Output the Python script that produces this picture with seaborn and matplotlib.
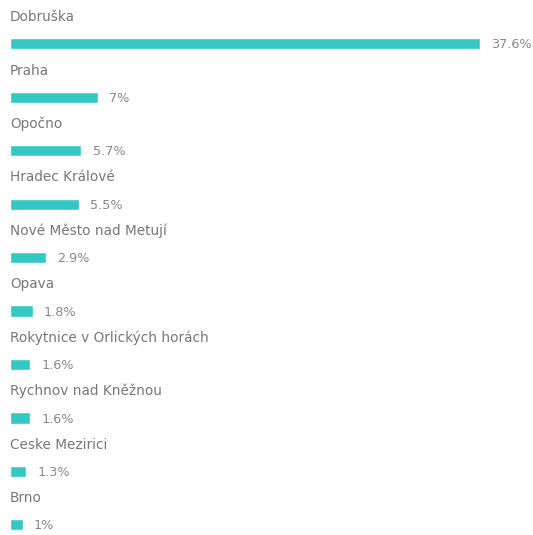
import matplotlib
matplotlib.use("Agg")
import matplotlib.pyplot as plt
import seaborn as sns
import pandas as pd

# data
cities = ["Dobruška", "Praha", "Opočno", "Hradec Králové", "Nové Město nad Metují",
          "Opava", "Rokytnice v Orlických horách", "Rychnov nad Kněžnou",
          "Ceske Mezirici", "Brno"]
shares = [37.6, 7, 5.7, 5.5, 2.9, 1.8, 1.6, 1.6, 1.3, 1]
share_labels = ["37.6%", "7%", "5.7%", "5.5%", "2.9%", "1.8%", "1.6%", "1.6%", "1.3%", "1%"]

df = pd.DataFrame({"city": cities, "share": shares})

sns.set_style("white")
plt.rcParams["font.family"] = ["DejaVu Sans"]

fig = plt.figure(figsize=(5.33, 5.35), dpi=100)
ax = fig.add_axes([0, 0, 1, 1])

sns.barplot(data=df, x="share", y="city", orient="h", color="#34c8c5",
            saturation=1, width=0.21, ax=ax)

for i, (c, lab, v) in enumerate(zip(cities, share_labels, shares)):
    ax.text(0, i - 0.5, c, fontsize=9.8, color="#777777", ha="left", va="center")
    ax.text(v + 0.9, i + 0.02, lab, fontsize=9.2, color="#888888", ha="left", va="center")

ax.set_xlim(-0.8, 41.84)
ax.set_ylim(9.19, -0.82)
ax.axis("off")

fig.savefig("out.png", dpi=100)
